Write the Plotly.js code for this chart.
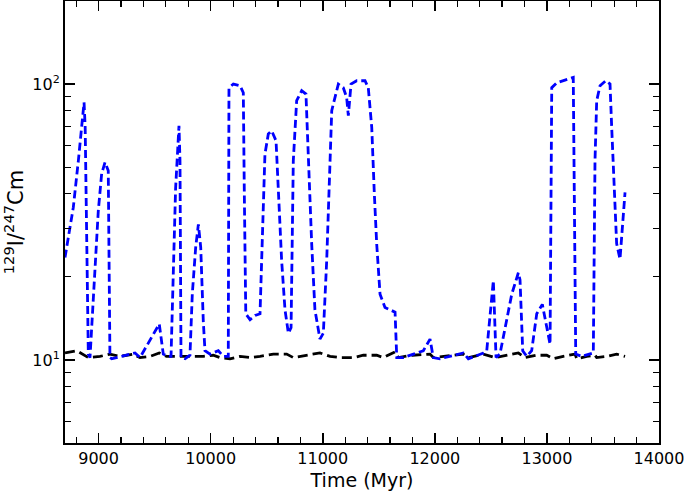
<!DOCTYPE html>
<html>
<head>
<meta charset="utf-8">
<script src="https://cdn.plot.ly/plotly-3.0.1.min.js"></script>
<style>
  html, body { margin: 0; padding: 0; background: #fff; }
  #plot { width: 685px; height: 491px; }
</style>
</head>
<body>
<div id="plot"></div>
<script>
// blue curve: time (Myr) and ratio
var blueTime = [8700, 8774, 8819, 8870, 8880, 8908, 8923, 8953, 8997, 9027, 9057, 9086, 9095, 9101, 9117,
  9325, 9369, 9458, 9541, 9577, 9622, 9646, 9666, 9687, 9705, 9717, 9726, 9732, 9735, 9771, 9815, 9836,
  9866, 9890, 9911, 9934, 9949, 9994, 10068, 10113, 10157, 10163, 10202, 10262, 10291, 10300, 10313,
  10351, 10396, 10440, 10469, 10484, 10514, 10544, 10583, 10603, 10633, 10663, 10693, 10717, 10723,
  10737, 10767, 10812, 10850, 10871, 10901, 10930, 10975, 11005, 11035, 11065, 11080, 11094, 11139,
  11183, 11213, 11228, 11252, 11303, 11377, 11406, 11437, 11460, 11481, 11511, 11555, 11615, 11645,
  11660, 11719, 11897, 11957, 11986, 12046, 12254, 12299, 12433, 12463, 12522, 12546, 12581, 12641,
  12686, 12745, 12760, 12784, 12820, 12864, 12909, 12959, 12998, 13028, 13043, 13087, 13161, 13235,
  13257, 13310, 13414, 13429, 13444, 13474, 13525, 13563, 13578, 13602, 13622, 13652, 13673, 13697];
var blueRatio = [23.5, 35.7, 52.7, 85.8, 70, 10.5, 10.2, 17.4, 34.7, 47.3, 52, 48.5, 22.9, 10.2, 10.1,
  10.6, 10.2, 11.8, 13.5, 10.5, 10.3, 10.3, 22.9, 42, 57.3, 70.6, 52.7, 22.9, 10.2, 10.1, 10.4, 17.4,
  25.6, 31, 25.6, 13.8, 10.8, 10.5, 10.8, 10.3, 10.3, 97, 100, 98.6, 93, 40, 14.7,
  14, 14.5, 14.7, 40, 55.7, 65.9, 67.7, 62.3, 40, 22.9, 15.2, 12.5, 13.1, 22.9,
  52.7, 87, 94.6, 92, 52.7, 26.4, 15.2, 11.9, 12.5, 22.9, 52.7, 80, 84.6, 100,
  97, 89.4, 76.8, 100, 102.8, 102.8, 97, 69.6, 40, 26.4, 17.3, 15.5, 15.1, 14.9,
  10.2, 10.2, 10.8, 11.9, 10.2, 10.1, 10.6, 10.1, 10.6, 10.8, 19.4, 10.2, 10.5, 13.9,
  17.3, 20.7, 19.5, 10.8, 10.3, 10.8, 14.7, 15.9, 13.1, 11.4, 97, 101, 103.4, 105.7,
  10.5, 10.3, 10.6, 52.7, 87, 98.6, 102.8, 100, 69.6, 40, 26.4, 23.2, 30.2, 40.5];

// black curve
var blackTime = [8700, 8804, 8908, 9012, 9101, 9190, 9309, 9369, 9458, 9541, 9607, 9726, 9815, 9934,
  10023, 10083, 10172, 10262, 10351, 10440, 10559, 10678, 10737, 10856, 10975, 11065, 11154, 11273,
  11362, 11481, 11540, 11645, 11674, 11800, 11957, 11986, 12100, 12254, 12299, 12433, 12537, 12641,
  12745, 12805, 12909, 12998, 13057, 13146, 13251, 13266, 13355, 13429, 13444, 13533, 13622, 13697];
var blackRatio = [10.6, 10.8, 10.2, 10.3, 10.5, 10.3, 10.5, 10.2, 10.3, 10.6, 10.3, 10.3, 10.3, 10.3,
  10.4, 10.2, 10.1, 10.3, 10.2, 10.3, 10.5, 10.5, 10.2, 10.4, 10.6, 10.3, 10.2, 10.2,
  10.4, 10.4, 10.2, 10.7, 10.2, 10.4, 10.5, 10.2, 10.3, 10.5, 10.2, 10.5, 10.2, 10.4,
  10.6, 10.2, 10.4, 10.4, 10.1, 10.3, 10.5, 10.1, 10.3, 10.4, 10.2, 10.3, 10.5, 10.3];

var xTicks = [9000, 10000, 11000, 12000, 13000, 14000];
var yTicks = [10, 100];
var yTickText = ['10<sup>1</sup>', '10<sup>2</sup>'];
var yMinor = [6, 7, 8, 9, 20, 30, 40, 50, 60, 70, 80, 90];

var data = [
  {
    x: blackTime, y: blackRatio, type: 'scatter', mode: 'lines',
    line: {color: 'black', width: 2.8, dash: '10px,5px'},
    hoverinfo: 'skip'
  },
  {
    x: blueTime, y: blueRatio, type: 'scatter', mode: 'lines',
    line: {color: 'rgb(0,0,255)', width: 2.8, dash: '8px,4px'},
    hoverinfo: 'skip'
  }
];

var layout = {
  width: 685,
  height: 491,
  margin: {l: 65, r: 26, t: 1, b: 48},
  paper_bgcolor: 'white',
  plot_bgcolor: 'white',
  showlegend: false,
  font: {family: 'DejaVu Sans, sans-serif', color: 'black', size: 16},
  xaxis: {
    title: {text: 'Time (Myr)', font: {size: 19}, standoff: 6},
    range: [8700, 14000],
    tickvals: xTicks,
    tickformat: 'd',
    ticks: 'inside', ticklen: 10, tickwidth: 1.5, tickcolor: 'black',
    minor: {dtick: 200, ticks: 'inside', ticklen: 6, tickwidth: 1.2, tickcolor: 'black', showgrid: false},
    showline: true, linecolor: 'black', linewidth: 2, mirror: 'allticks',
    showgrid: false, zeroline: false,
    tickfont: {size: 16},
    automargin: false
  },
  yaxis: {
    title: {text: '<sup>129</sup>I/<sup>247</sup>Cm', font: {size: 21}, standoff: 4},
    type: 'log',
    range: [Math.log10(5), Math.log10(200)],
    tickmode: 'array',
    tickvals: yTicks,
    ticktext: yTickText,
    ticks: 'inside', ticklen: 10, tickwidth: 1.5, tickcolor: 'black',
    minor: {tickmode: 'array', tickvals: yMinor, ticks: 'inside', ticklen: 6, tickwidth: 1.2, tickcolor: 'black', showgrid: false},
    showline: true, linecolor: 'black', linewidth: 2, mirror: 'allticks',
    showgrid: false, zeroline: false,
    tickfont: {size: 16},
    automargin: false
  }
};

Plotly.newPlot('plot', data, layout, {displayModeBar: false, staticPlot: true});
</script>
</body>
</html>
